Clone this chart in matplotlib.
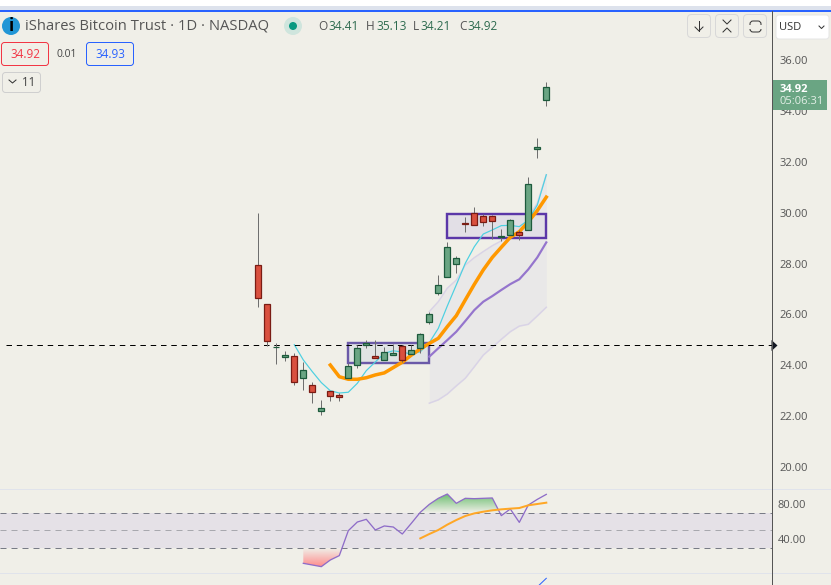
import numpy as np
import matplotlib
matplotlib.use("Agg")
import matplotlib.pyplot as plt
from matplotlib.patches import Rectangle, FancyBboxPatch, Circle

# chart data
opens = [27.93, 26.40, 24.70, 24.34, 24.35, 23.49, 23.21, 22.19, 23.00, 22.84, 23.51,
         24.00, 24.81, 24.35, 24.20, 24.39, 24.75, 24.46, 24.67, 25.71, 26.83,
         27.48, 27.97, 29.60, 29.97, 29.86, 29.86, 29.05, 29.13, 29.23, 29.31, 32.49, 34.41]
highs = [29.97, 26.40, 24.88, 24.56, 24.47, 24.12, 23.34, 22.64, 23.00, 22.92, 24.10,
         24.79, 24.99, 24.99, 24.71, 24.82, 24.79, 24.80, 25.26, 26.11, 27.55,
         28.83, 28.28, 29.84, 30.22, 29.93, 29.92, 29.36, 29.75, 29.32, 31.40, 32.93, 35.13]
lows = [26.30, 24.77, 24.06, 24.17, 23.22, 23.03, 22.53, 22.05, 22.58, 22.61, 23.51,
        23.91, 24.69, 24.27, 24.20, 24.39, 24.12, 24.46, 24.49, 25.62, 26.76,
        27.48, 27.64, 29.24, 29.50, 29.49, 28.96, 28.90, 29.13, 28.92, 29.31, 32.15, 34.21]
closes = [26.63, 24.94, 24.73, 24.39, 23.33, 23.80, 22.94, 22.31, 22.80, 22.74, 23.98,
          24.67, 24.86, 24.27, 24.53, 24.49, 24.20, 24.59, 25.22, 26.00, 27.14,
          28.64, 28.21, 29.56, 29.50, 29.62, 29.66, 29.08, 29.70, 29.13, 31.11, 32.57, 34.92]

ma_fast_start = 4
ma_fast = [24.81, 24.21, 23.75, 23.32, 23.00, 22.91, 22.94, 23.29, 23.79, 24.13, 24.47,
           24.57, 24.52, 24.44, 24.53, 24.89, 25.45, 26.33, 27.16, 28.01, 28.66, 29.16,
           29.32, 29.49, 29.50, 29.45, 29.71, 30.30, 31.49]
ma_slow_start = 8
ma_slow = [24.01, 23.55, 23.45, 23.45, 23.51, 23.62, 23.70, 23.91, 24.12, 24.40, 24.64,
           24.86, 25.06, 25.52, 25.95, 26.57, 27.18, 27.75, 28.24, 28.64, 29.03, 29.25,
           29.64, 30.08, 30.61]
bb_start = 19
bb_mid = [24.34, 24.67, 24.99, 25.32, 25.74, 26.17, 26.50, 26.72, 26.96, 27.19, 27.38,
          27.77, 28.24, 28.83]
bb_up = [26.11, 26.50, 27.03, 27.35, 27.94, 28.23, 28.47, 28.70, 28.89, 29.12, 29.38,
         29.84, 30.37, 31.49]
bb_low = [22.51, 22.64, 22.87, 23.19, 23.49, 23.94, 24.40, 24.71, 25.02, 25.32, 25.54,
          25.61, 25.94, 26.28]

rsi_start = 5
rsi = [12.2, 10.3, 8.4, 16.0, 21.0, 49.5, 59.4, 62.5, 50.3, 54.9, 53.7, 45.7, 57.9, 70.5,
       79.6, 86.5, 91.4, 80.8, 86.5, 86.1, 86.5, 86.9, 66.7, 74.3, 59.0, 78.8, 85.3, 91.0]
rsi_ma_start = 18
rsi_ma = [40.7, 45.7, 50.3, 56.4, 61.7, 66.3, 69.3, 71.2, 72.8, 73.9, 74.7, 75.4, 78.5,
          80.0, 81.5]
macd_start = 31
macd = [-1.9, 6.7]

price_ticks = [20, 22, 24, 26, 28, 30, 32, 34, 36]
rsi_ticks = [40, 80]
prev_close = 24.79
box1 = [10, 19, 24.09, 24.88]
box2 = [21, 32, 28.99, 29.94]

W, H = 831, 585
BG = "#f0efe8"
GRID = "#e0e3eb"
GREY = "#555555"
FONT = "Open Sans"
plt.rcParams["font.family"] = [FONT, "DejaVu Sans"]
px = 0.72  # one pixel in points at 100 dpi

fig = plt.figure(figsize=(W / 100, H / 100), dpi=100, facecolor=BG)


def panel(top, bottom):
    return fig.add_axes([0, 1 - bottom / H, 771.5 / W, (bottom - top) / H], facecolor=BG)


xlim = (-258.3 / 9, (771.5 - 258.3) / 9)

# main price panel
ax = panel(11, 489)
ax.set_xlim(xlim)
ax.set_ylim(36 - (489 - 60) / 25.44, 36 + (60 - 11) / 25.44)

bb_x = np.arange(len(bb_mid)) + bb_start
ax.fill_between(bb_x, bb_low, bb_up, color="#e9e8e8", lw=0, zorder=1)
ax.plot(bb_x, bb_up, color="#d9d3e6", lw=1.5 * px, zorder=2)
ax.plot(bb_x, bb_low, color="#d9d3e6", lw=1.5 * px, zorder=2)

ax.add_patch(Rectangle((box1[0], box1[2]), box1[1] - box1[0], box1[3] - box1[2], fc="#e0e4e4",
                       ec="#6b5aa8", lw=2.4 * px, zorder=3))
ax.add_patch(Rectangle((box2[0], box2[2]), box2[1] - box2[0], box2[3] - box2[2], fc="#e2dfe6",
                       ec="#5b37a8", lw=2.4 * px, zorder=3))

ax.plot(bb_x, bb_mid, color="#9575cd", lw=2.2 * px, zorder=4)
ax.plot(np.arange(len(ma_fast)) + ma_fast_start, ma_fast, color="#4dd0e1", lw=1.2 * px, zorder=5)
ax.plot(np.arange(len(ma_slow)) + ma_slow_start, ma_slow, color="#ff9800", lw=3.5 * px, zorder=6)

ax.plot([-28, xlim[1]], [prev_close, prev_close], color="black", lw=1 * px, dashes=(5.5, 4.8), zorder=7)

x = np.arange(len(opens))
opens = np.array(opens)
closes = np.array(closes)
up = closes >= opens
ax.vlines(x, lows, highs, color="#6f6f6f", lw=1 * px, zorder=8)
ax.bar(x[up], (closes - opens)[up], bottom=opens[up], width=0.66, color="#6aa583",
       edgecolor="#1d5a3c", lw=1.25 * px, zorder=9)
ax.bar(x[~up], (closes - opens)[~up], bottom=opens[~up], width=0.66, color="#d9503f",
       edgecolor="#7a1c14", lw=1.25 * px, zorder=9)

# RSI panel
ax2 = panel(489, 572)
ax2.set_xlim(xlim)
ax2.set_ylim(80 - (572 - 504) / 0.875, 80 + (504 - 489) / 0.875)
ax2.axhspan(30, 70, color="#e5e1e7", lw=0, zorder=1)
ax2.axhline(70, color="#787b86", lw=1 * px, dashes=(6, 5), zorder=2)
ax2.axhline(50, color="#a8a8ae", lw=1 * px, dashes=(6, 5), zorder=2)
ax2.axhline(30, color="#787b86", lw=1 * px, dashes=(6, 5), zorder=2)

rsi_x = np.arange(len(rsi)) + rsi_start
rsi_arr = np.array(rsi)
fine_x = np.linspace(rsi_x[0], rsi_x[-1], 800)
fine_y = np.interp(fine_x, rsi_x, rsi_arr)

green = np.zeros((64, 2, 4))
green[:, :, :3] = matplotlib.colors.to_rgb("#6fbf73")
green[:, :, 3] = np.linspace(1, 0, 64)[:, None]
red = np.zeros((64, 2, 4))
red[:, :, :3] = matplotlib.colors.to_rgb("#ff8a8a")
red[:, :, 3] = np.linspace(0, 1, 64)[:, None]

poly = ax2.fill_between(fine_x, 70, fine_y, where=fine_y > 70, color="none", lw=0)
img = ax2.imshow(green, extent=(rsi_x[0], rsi_x[-1], 70, fine_y.max()), aspect="auto", zorder=3)
img.set_clip_path(poly.get_paths()[0], poly.get_transform())
poly = ax2.fill_between(fine_x, 30, fine_y, where=fine_y < 30, color="none", lw=0)
img = ax2.imshow(red, extent=(rsi_x[0], rsi_x[-1], fine_y.min(), 30), aspect="auto", zorder=3)
img.set_clip_path(poly.get_paths()[0], poly.get_transform())
ax2.set_xlim(xlim)
ax2.set_ylim(80 - (572 - 504) / 0.875, 80 + (504 - 489) / 0.875)

ax2.plot(rsi_x, rsi, color="#8e6cc8", lw=1.3 * px, zorder=5)
ax2.plot(np.arange(len(rsi_ma)) + rsi_ma_start, rsi_ma, color="#ffa726", lw=2 * px, zorder=6)

# bottom panel, only the tip of its line shows
ax3 = panel(572, 585)
ax3.set_xlim(xlim)
ax3.set_ylim(0, 13)
ax3.plot(np.arange(len(macd)) + macd_start, macd, color="#2962ff", lw=1 * px)

for a in [ax, ax2, ax3]:
    a.set_xticks([])
    for side in ["top", "left", "bottom"]:
        a.spines[side].set_visible(False)
    a.spines["right"].set_color(GREY)
    a.spines["right"].set_linewidth(1 * px)
    a.yaxis.tick_right()
    a.tick_params(axis="y", length=0, pad=6, labelsize=8, labelcolor=GREY)

ax.set_yticks(price_ticks)
ax.set_yticklabels(["%.2f" % t for t in price_ticks])
ax2.set_yticks(rsi_ticks)
ax2.set_yticklabels(["%.2f" % t for t in rsi_ticks])
ax2.tick_params(axis="y", pad=4.5)
ax3.set_yticks([])

# everything around the chart, in pixel positions
top = fig.add_axes([0, 0, 1, 1], facecolor="none", zorder=20)
top.set_xlim(0, W)
top.set_ylim(H, 0)
top.axis("off")


def box(x0, y0, x1, y1, fc="none", ec="#d6d6d6", lw=1, r=3):
    top.add_patch(FancyBboxPatch((x0 + r, y0 + r), x1 - x0 - 2 * r, y1 - y0 - 2 * r,
                                 boxstyle="round,pad=%g,rounding_size=%g" % (r, r),
                                 fc=fc, ec=ec, lw=lw * px))


def label(x0, y0, s, size=8, color=GREY, **kw):
    kw.setdefault("va", "center")
    top.text(x0, y0, s, fontsize=size, color=color, **kw)


top.add_patch(Rectangle((0, 0), W, 6, fc="white", lw=0))
top.add_patch(Rectangle((0, 6), W, 4, fc="#dde2ec", lw=0))
top.add_patch(Rectangle((0, 10), W, 2, fc="#2962ff", lw=0))
top.plot([0, W], [489, 489], color=GRID, lw=1 * px)
top.plot([0, W], [572.5, 572.5], color=GRID, lw=1 * px)
top.plot([771.5, 771.5], [11, H], color=GREY, lw=1 * px)

# arrow on the price axis at the dashed line
top.fill([771.5, 777.5, 771.5], [340, 345.5, 351], color="#131722", lw=0)

top.add_patch(Circle((11, 26), 9, fc="#2196d6", lw=0))
label(11, 26, "i", size=12, color="black", ha="center", fontweight="bold")
label(25, 26.5, "iShares Bitcoin Trust · 1D · NASDAQ", size=10.6, color="#555555")
top.add_patch(Circle((293, 26), 9, fc="#cfe5dd", lw=0))
top.add_patch(Circle((293, 26), 4, fc="#089981", lw=0))

for lx, gap, letter, val in [(318, 10, "O", "34.41"), (366, 10, "H", "35.13"),
                             (413, 7, "L", "34.21"), (459, 8, "C", "34.92")]:
    label(lx, 26.5, letter, size=8.6, color="#555555")
    label(lx + gap, 26.5, val, size=8.6, color="#2e6b4f")

box(1.5, 42.5, 48.5, 65.5, ec="#f23645")
label(25, 54.5, "34.92", size=8.4, color="#f23645", ha="center")
label(67, 54.5, "0.01", size=7.4, color="#444444", ha="center")
box(86.5, 42.5, 133.5, 65.5, ec="#2962ff")
label(110, 54.5, "34.93", size=8.4, color="#2962ff", ha="center")
box(2.5, 72.5, 40.5, 92.5, ec="#cfcfcf")
top.plot([9, 12.5, 16], [80, 83, 80], color="#333333", lw=1 * px)
label(29, 82.5, "11", size=8.4, color="#444444", ha="center")

for x0 in [687.5, 715.5, 743.5]:
    box(x0, 14.5, x0 + 23, 37.5, ec="#d8d8d8", r=4)
top.plot([699, 699], [21, 31], color="#333333", lw=1 * px)
top.plot([695, 699, 703], [27, 31, 27], color="#333333", lw=1 * px)
top.plot([723, 727, 731], [20, 24, 20], color="#333333", lw=1 * px)
top.plot([723, 727, 731], [32, 28, 32], color="#333333", lw=1 * px)
box(750, 21, 761, 32, ec="#333333", r=3)
top.add_patch(Rectangle((749, 24.5), 13, 4, fc=BG, lw=0))

box(776, 15, 829, 39, fc="white", ec="#e6e6e6", r=3)
label(779.5, 27, "USD", size=8, color="#333333")
top.plot([819, 821.5, 824], [26, 28.5, 26], color="#333333", lw=1 * px)

top.add_patch(Rectangle((771.5, 80), 55.5, 30, fc="#6aa583", lw=0))
label(780, 89, "34.92", size=8, color="white", fontweight="bold")
label(780, 102, "05:06:31", size=8, color="#e3efe7")

fig.savefig("out.png", dpi=100, facecolor=BG)
